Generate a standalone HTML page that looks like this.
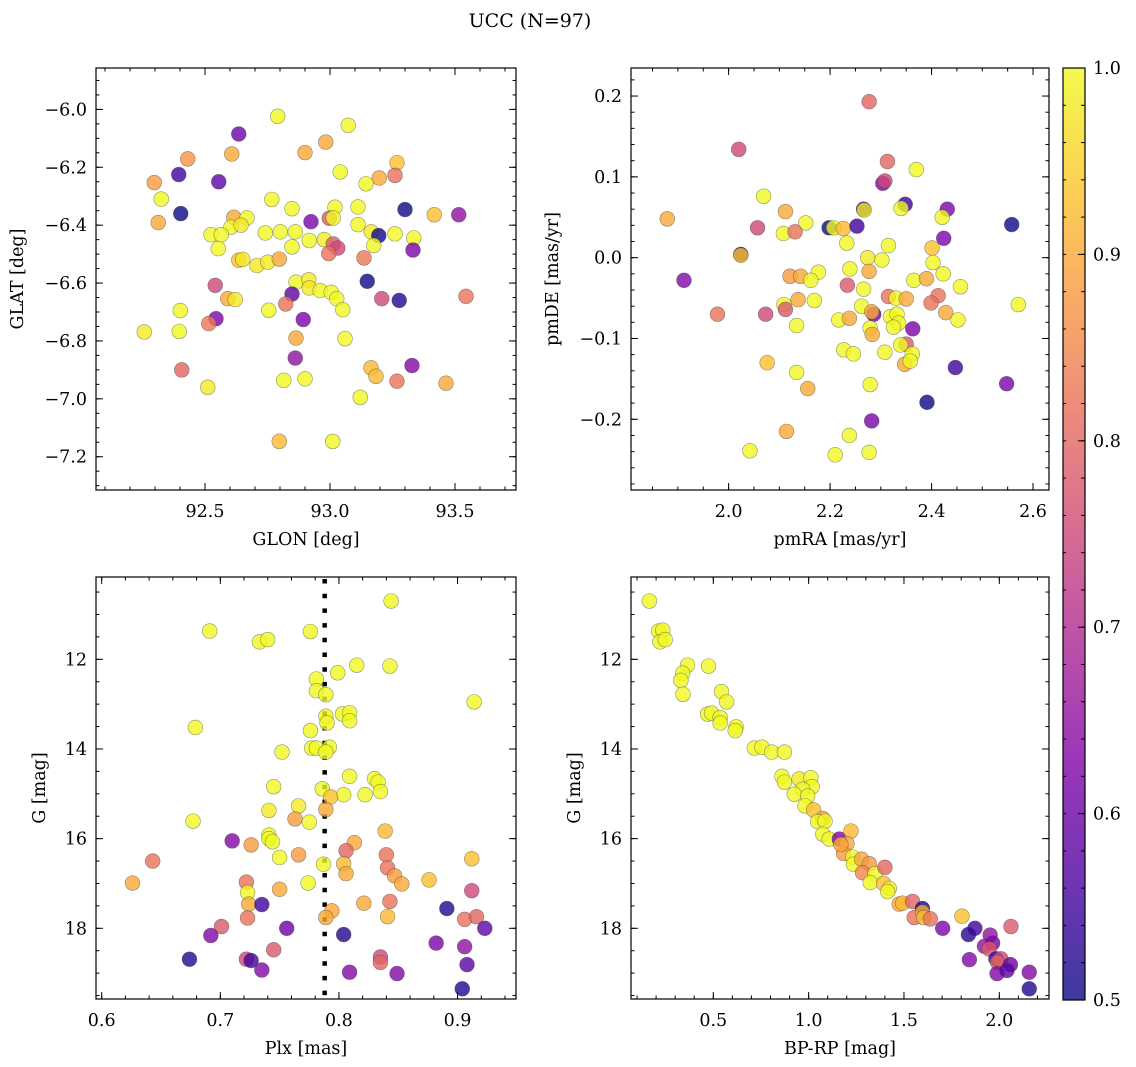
<!DOCTYPE html>
<html><head><meta charset="utf-8"><title>UCC (N=97)</title>
<style>
html,body{margin:0;padding:0;background:#fff;}
svg{display:block;font-family:"DejaVu Serif","Liberation Serif",serif;}
</style></head>
<body>
<svg id="fig" width="1136" height="1067" viewBox="0 0 1136 1067" xmlns="http://www.w3.org/2000/svg">
<text x="530" y="27" font-size="19" text-anchor="middle">UCC (N=97)</text>
</svg>
<script>
// ---- Panel 1 data: GLON / GLAT ----
const glon=[92.791,93.073,92.635,92.983,92.9,92.607,92.431,93.268,92.395,93.041,93.26,93.197,93.144,92.297,92.555,92.325,92.767,92.848,93.02,93.112,93.3,93.417,93.515,92.403,92.313,92.615,92.668,92.924,92.997,93.013,92.604,92.644,92.524,92.565,92.741,92.801,92.861,93.112,93.165,93.195,93.26,93.335,93.332,92.553,92.848,92.917,92.977,93.013,93.031,92.995,93.175,93.136,92.635,92.651,92.708,92.751,92.797,93.149,92.864,92.915,92.917,92.961,93.005,93.027,93.051,92.541,92.591,92.621,92.848,93.207,93.277,93.544,92.823,92.401,92.755,92.544,92.515,92.893,92.257,92.397,92.864,93.06,92.861,93.328,93.164,93.184,93.268,93.464,92.407,92.815,92.9,92.511,93.121,92.797,93.011];
const glat=[-6.024,-6.055,-6.085,-6.113,-6.149,-6.154,-6.171,-6.184,-6.225,-6.216,-6.228,-6.237,-6.257,-6.253,-6.25,-6.31,-6.311,-6.343,-6.338,-6.337,-6.346,-6.364,-6.364,-6.36,-6.391,-6.373,-6.375,-6.388,-6.376,-6.375,-6.407,-6.4,-6.433,-6.433,-6.427,-6.423,-6.423,-6.398,-6.423,-6.436,-6.43,-6.444,-6.486,-6.481,-6.475,-6.453,-6.45,-6.465,-6.479,-6.498,-6.47,-6.513,-6.521,-6.518,-6.539,-6.528,-6.517,-6.594,-6.597,-6.589,-6.617,-6.626,-6.632,-6.654,-6.692,-6.608,-6.654,-6.657,-6.638,-6.654,-6.66,-6.646,-6.672,-6.695,-6.694,-6.723,-6.74,-6.726,-6.769,-6.767,-6.79,-6.792,-6.859,-6.885,-6.893,-6.922,-6.939,-6.946,-6.9,-6.936,-6.931,-6.96,-6.995,-7.147,-7.147];
const prob1=[1,1,.6,.9,.9,.9,.87,.93,.55,1,.82,.9,1,.88,.58,1,1,1,1,1,.5,.93,.65,.5,.9,.9,1,.62,.78,1,1,.98,1,1,1,1,1,1,.98,.5,1,1,.62,1,1,1,.98,.78,.75,.82,1,.83,.93,.98,.98,.98,.9,.5,1,.98,.98,1,1,1,1,.75,.9,.98,.58,.75,.52,.82,.82,1,1,.62,.83,.62,.98,1,.9,1,.65,.63,.92,.92,.82,.9,.8,1,1,.98,1,.92,1];
// ---- Panel 2 data: pmRA / pmDE ----
const pmra=[2.277,2.02,2.313,2.37,2.304,2.308,2.069,2.112,1.879,2.266,2.267,2.348,2.34,2.431,2.421,2.558,2.152,2.057,2.108,2.131,2.198,2.207,2.226,2.253,2.233,2.424,2.024,2.024,2.401,2.315,2.302,2.274,2.403,1.912,2.121,2.142,2.177,2.162,2.239,2.277,2.266,2.234,2.365,2.39,2.423,2.457,2.137,2.169,2.315,2.33,2.35,2.413,2.399,2.571,2.109,2.112,1.978,2.073,2.262,2.286,2.282,2.428,2.452,2.217,2.238,2.319,2.332,2.335,2.325,2.134,2.363,2.279,2.283,2.35,2.339,2.227,2.246,2.308,2.362,2.347,2.358,2.076,2.447,2.134,2.548,2.156,2.279,2.391,2.282,2.114,2.238,2.042,2.21,2.277];
const pmde=[0.193,0.134,0.119,0.109,0.092,0.095,0.076,0.057,0.048,0.06,0.059,0.066,0.061,0.06,0.05,0.041,0.043,0.037,0.03,0.032,0.037,0.037,0.036,0.039,0.018,0.024,0.004,0.003,0.012,0.015,-0.003,0.0,-0.006,-0.028,-0.023,-0.023,-0.018,-0.028,-0.014,-0.017,-0.039,-0.034,-0.028,-0.026,-0.02,-0.036,-0.052,-0.053,-0.048,-0.05,-0.051,-0.047,-0.056,-0.058,-0.058,-0.064,-0.07,-0.07,-0.06,-0.07,-0.067,-0.068,-0.077,-0.077,-0.075,-0.073,-0.07,-0.081,-0.086,-0.084,-0.088,-0.087,-0.095,-0.107,-0.108,-0.114,-0.119,-0.117,-0.119,-0.132,-0.128,-0.13,-0.136,-0.142,-0.156,-0.162,-0.157,-0.179,-0.202,-0.215,-0.22,-0.239,-0.244,-0.241];
const prob2=[.8,.75,.8,1,.62,.75,1,.9,.9,.5,.98,.55,1,.62,1,.5,1,.75,1,.82,.5,1,.92,.55,1,.62,.5,.93,.93,1,1,.98,1,.63,.88,.9,1,1,1,.9,1,.78,1,.9,1,1,.9,1,.82,1,.9,.82,.82,1,1,.78,.82,.75,1,.6,.9,.9,1,1,.9,1,1,1,1,1,.62,1,.9,.78,1,1,1,1,1,.9,1,.93,.55,1,.62,.9,1,.5,.62,.9,1,1,1,1];
// ---- Panel 3 data: Plx / G ----
const plx=[0.844,0.691,0.733,0.74,0.776,0.815,0.843,0.799,0.781,0.781,0.789,0.914,0.789,0.803,0.809,0.809,0.79,0.679,0.776,0.777,0.781,0.792,0.789,0.752,0.809,0.83,0.833,0.835,0.822,0.804,0.786,0.793,0.745,0.766,0.741,0.789,0.763,0.775,0.677,0.839,0.741,0.741,0.744,0.71,0.726,0.813,0.806,0.84,0.75,0.766,0.912,0.643,0.804,0.787,0.841,0.806,0.847,0.853,0.876,0.626,0.774,0.722,0.723,0.75,0.912,0.724,0.735,0.821,0.843,0.794,0.789,0.841,0.723,0.891,0.906,0.916,0.923,0.701,0.756,0.804,0.692,0.882,0.906,0.674,0.722,0.726,0.745,0.835,0.835,0.908,0.735,0.809,0.849,0.904];
const gmag3=[10.70,11.37,11.61,11.56,11.38,12.13,12.15,12.3,12.44,12.7,12.79,12.95,13.27,13.22,13.19,13.37,13.42,13.52,13.59,13.98,13.98,13.96,14.07,14.07,14.61,14.66,14.74,14.95,15.02,15.02,14.89,15.07,14.84,15.27,15.37,15.35,15.56,15.63,15.61,15.83,15.92,16.0,16.07,16.05,16.14,16.09,16.27,16.36,16.42,16.36,16.45,16.5,16.56,16.57,16.65,16.78,16.83,17.01,16.92,16.99,16.99,16.97,17.2,17.13,17.16,17.46,17.47,17.44,17.4,17.61,17.76,17.74,17.77,17.56,17.8,17.74,18.0,17.96,18.0,18.14,18.16,18.33,18.41,18.69,18.69,18.72,18.48,18.64,18.76,18.81,18.93,18.98,19.01,19.35];
const prob3=[1,1,1,1,1,1,1,1,1,1,1,1,1,1,1,1,1,1,1,1,1,1,1,1,1,1,1,1,1,1,1,.93,1,.98,.98,.9,.88,1,1,.92,1,1,1,.63,.88,.9,.8,.82,1,.88,.93,.82,.92,1,.82,.9,.88,.9,.93,.9,1,.82,1,.9,.75,.9,.55,.9,.82,.9,.9,.92,.82,.52,.82,.8,.58,.78,.6,.52,.63,.62,.65,.52,.75,.55,.78,.75,.8,.58,.63,.63,.63,.52];
// ---- Panel 4 data: BP-RP / G ----
const bprp=[0.165,0.213,0.235,0.22,0.248,0.365,0.339,0.33,0.341,0.475,0.543,0.57,0.47,0.491,0.536,0.536,0.62,0.615,0.715,0.755,0.806,0.873,0.86,0.873,0.95,1.012,1.018,0.968,0.925,0.995,0.981,1.026,1.074,1.047,1.086,1.074,1.108,1.161,1.222,1.201,1.183,1.231,1.235,1.278,1.318,1.283,1.348,1.323,1.4,1.393,1.423,1.414,1.475,1.493,1.545,1.597,1.554,1.597,1.603,1.638,1.703,1.804,1.838,1.872,1.952,1.922,1.965,1.947,2.061,1.982,2.008,1.991,2.058,1.843,1.988,2.04,2.157,2.157,1.169];
const gmag4=[10.70,11.37,11.35,11.61,11.56,12.13,12.31,12.47,12.78,12.15,12.72,12.95,13.22,13.2,13.3,13.42,13.51,13.59,13.98,13.96,14.07,14.07,14.61,14.74,14.67,14.64,14.84,14.9,15.01,15.05,15.27,15.36,15.55,15.62,15.61,15.9,16.01,16.01,15.83,16.11,16.33,16.41,16.57,16.46,16.56,16.76,16.78,16.98,16.64,17.0,17.11,17.18,17.46,17.44,17.4,17.56,17.76,17.64,17.76,17.79,18.0,17.73,18.14,18.0,18.15,18.4,18.33,18.46,17.96,18.68,18.68,18.76,18.81,18.7,19.01,18.94,18.98,19.35,16.13];
const prob4=[1,1,1,1,1,1,1,1,1,1,1,1,1,1,1,1,1,1,1,1,1,1,1,1,.98,1,1,1,1,1,1,.93,.88,1,1,1,1,.62,.92,.9,.88,1,1,.9,.88,.85,1,1,.8,.93,.98,1,.9,.92,.8,.5,.82,.9,.92,.82,.62,.93,.52,.55,.65,.65,.62,.78,.78,.55,.75,.8,.6,.63,.63,.58,.63,.52,.9];
// ---- Ticks ----
const ticks1x=[92.5,93.0,93.5], ticks1y=[-6.0,-6.2,-6.4,-6.6,-6.8,-7.0,-7.2];
const ticks2x=[2.0,2.2,2.4,2.6], ticks2y=[0.2,0.1,0.0,-0.1,-0.2];
const ticks3x=[0.6,0.7,0.8,0.9], ticksGy=[12,14,16,18];
const ticks4x=[0.5,1.0,1.5,2.0];
const cbarTicks=[0.5,0.6,0.7,0.8,0.9,1.0];
const plxMean=[0.788];

const NS='http://www.w3.org/2000/svg';
const svg=document.getElementById('fig');
const FS=17.5;
function mk(tag,attrs,parent){const e=document.createElementNS(NS,tag);for(const k in attrs)e.setAttribute(k,attrs[k]);(parent||svg).appendChild(e);return e;}

const stops=[[13,8,135],[76,2,161],[126,3,168],[169,35,149],[204,71,120],[230,108,92],[248,149,64],[253,197,39],[240,249,33]];
function plasma(t){t=Math.max(0,Math.min(1,t));const s=t*(stops.length-1);const i=Math.min(Math.floor(s),stops.length-2);const f=s-i;const a=stops[i],b=stops[i+1];return 'rgb('+[0,1,2].map(k=>Math.round(a[k]+(b[k]-a[k])*f)).join(',')+')';}
function pcol(p){return plasma((p-0.5)/0.5);}
function fmt(v,d){let s=v.toFixed(d);return s.replace('-','\u2212');}

function panel(o){
  const g=mk('g',{});
  
  
  const sx=v=>o.x0+(v-o.xmin)/(o.xmax-o.xmin)*(o.x1-o.x0);
  const sy=v=>o.y1-(v-o.ymin)/(o.ymax-o.ymin)*(o.y1-o.y0);
  const tg=mk('g',{stroke:'#000','stroke-width':1},g);
  function ticksAlong(axis,step,len){
    const lo=axis==='x'?o.xmin:o.ymin, hi=axis==='x'?o.xmax:o.ymax;
    for(let v=Math.ceil(lo/step-1e-6)*step; v<=hi+1e-9; v+=step){
      if(axis==='x'){const X=sx(v);mk('line',{x1:X,x2:X,y1:o.y1,y2:o.y1-len},tg);mk('line',{x1:X,x2:X,y1:o.y0,y2:o.y0+len},tg);}
      else{const Y=sy(v);mk('line',{x1:o.x0,x2:o.x0+len,y1:Y,y2:Y},tg);mk('line',{x1:o.x1,x2:o.x1-len,y1:Y,y2:Y},tg);}
    }
  }
  ticksAlong('x',o.xminor,3.5);ticksAlong('y',o.yminor,3.5);
  o.xt.forEach(v=>{const X=sx(v);mk('line',{x1:X,x2:X,y1:o.y1,y2:o.y1-7},tg);mk('line',{x1:X,x2:X,y1:o.y0,y2:o.y0+7},tg);
    const t=mk('text',{x:X,y:o.y1+27,'font-size':FS,'text-anchor':'middle'},g);t.textContent=fmt(v,o.xd);
    });
  o.yt.forEach(v=>{const Y=sy(v);mk('line',{x1:o.x0,x2:o.x0+7,y1:Y,y2:Y},tg);mk('line',{x1:o.x1,x2:o.x1-7,y1:Y,y2:Y},tg);
    const t=mk('text',{x:o.x0-9,y:Y+6,'font-size':FS,'text-anchor':'end'},g);t.textContent=fmt(v,o.yd);
    });
  const xl=mk('text',{x:(o.x0+o.x1)/2,y:o.y1+55,'font-size':FS,'text-anchor':'middle'},g);xl.textContent=o.xlabel;
  
  const yl=mk('text',{x:o.ylx,y:(o.y0+o.y1)/2,'font-size':FS,'text-anchor':'middle',transform:'rotate(-90 '+o.ylx+' '+((o.y0+o.y1)/2)+')'},g);yl.textContent=o.ylabel;
  
  const cid='clip'+o.name;
  const cp=mk('clipPath',{id:cid},g);mk('rect',{x:o.x0,y:o.y0,width:o.x1-o.x0,height:o.y1-o.y0},cp);
  const pg=mk('g',{'clip-path':'url(#'+cid+')'},g);
  if(o.vline){o.vline.forEach(v=>{const l=mk('line',{x1:sx(v),x2:sx(v),y1:o.y0,y2:o.y1,stroke:'#000','stroke-width':4.5,'stroke-dasharray':'4.5 10.2','stroke-dashoffset':'-2'},pg);
    });}
  o.xs.forEach((xv,i)=>{
    const c=mk('circle',{cx:sx(xv),cy:sy(o.ys[i]),r:7.4,fill:pcol(o.ps[i]),'fill-opacity':0.8,stroke:'rgba(60,60,60,0.55)','stroke-width':0.6},pg);
    
    
  });
  mk('rect',{x:o.x0,y:o.y0,width:o.x1-o.x0,height:o.y1-o.y0,fill:'none',stroke:'#000','stroke-width':1.2},g);
}

panel({name:'panel-glon-glat',x0:96,x1:516,y0:68,y1:490,xmin:92.064,xmax:93.744,ymin:-7.315,ymax:-5.857,xt:ticks1x,yt:ticks1y,xd:1,yd:1,xminor:0.1,yminor:0.05,xlabel:'GLON [deg]',ylabel:'GLAT [deg]',ylx:23,xs:glon,ys:glat,ps:prob1});
panel({name:'panel-pm',x0:631,x1:1049,y0:68,y1:490,xmin:1.8076,xmax:2.6315,ymin:-0.2875,ymax:0.2347,xt:ticks2x,yt:ticks2y,xd:1,yd:1,xminor:0.05,yminor:0.02,xlabel:'pmRA [mas/yr]',ylabel:'pmDE [mas/yr]',ylx:558,xs:pmra,ys:pmde,ps:prob2});
panel({name:'panel-plx-g',x0:96,x1:516,y0:577,y1:999,xmin:0.5952,xmax:0.9493,ymin:-19.577,ymax:-10.164,xt:ticks3x,yt:[],xd:1,yd:0,xminor:0.02,yminor:0.5,xlabel:'Plx [mas]',ylabel:'G [mag]',ylx:45,xs:plx,ys:gmag3.map(v=>-v),ps:prob3,vline:plxMean});
panel({name:'panel-cmd',x0:631,x1:1049,y0:577,y1:999,xmin:0.0684,xmax:2.2606,ymin:-19.577,ymax:-10.164,xt:ticks4x,yt:[],xd:1,yd:0,xminor:0.1,yminor:0.5,xlabel:'BP-RP [mag]',ylabel:'G [mag]',ylx:580,xs:bprp,ys:gmag4.map(v=>-v),ps:prob4});

[[96,516],[631,1049]].forEach(([x0,x1])=>{
  ticksGy.forEach(v=>{const Y=999-(-v+19.577)/(19.577-10.164)*422;
    mk('line',{x1:x0,x2:x0+7,y1:Y,y2:Y,stroke:'#000','stroke-width':1});mk('line',{x1:x1,x2:x1-7,y1:Y,y2:Y,stroke:'#000','stroke-width':1});
    const t=mk('text',{x:x0-9,y:Y+6,'font-size':FS,'text-anchor':'end'});t.textContent=String(v);
    });
});

const cb=mk('g',{});


const gd=mk('linearGradient',{id:'cbg',x1:0,y1:1,x2:0,y2:0},cb);
for(let i=0;i<=20;i++){mk('stop',{offset:(i/20),'stop-color':plasma(i/20),'stop-opacity':0.8},gd);}
mk('rect',{x:1063,y:68,width:22,height:932,fill:'url(#cbg)',stroke:'#000','stroke-width':1.2},cb);
for(let v=0.5;v<=1.0001;v+=0.02){const Y=1000-(v-0.5)/0.5*932;mk('line',{x1:1085,x2:1081,y1:Y,y2:Y,stroke:'#000','stroke-width':1},cb);mk('line',{x1:1063,x2:1066,y1:Y,y2:Y,stroke:'#000','stroke-width':1},cb);}
cbarTicks.forEach(v=>{const Y=1000-(v-0.5)/0.5*932;mk('line',{x1:1085,x2:1078,y1:Y,y2:Y,stroke:'#000','stroke-width':1},cb);
  const t=mk('text',{x:1093,y:Y+6,'font-size':FS},cb);t.textContent=v.toFixed(1);
  });
</script>
</body></html>
